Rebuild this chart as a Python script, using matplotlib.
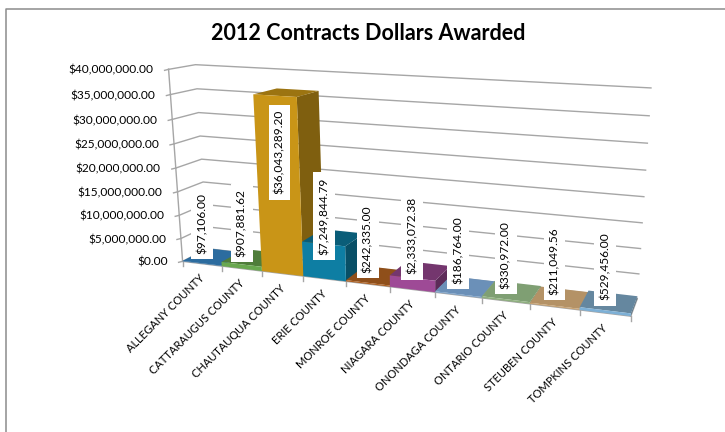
import numpy as np
import matplotlib
matplotlib.use('Agg')
import matplotlib.pyplot as plt
from matplotlib.patches import Polygon

counties = ['ALLEGANY COUNTY', 'CATTARAUGUS COUNTY', 'CHAUTAUQUA COUNTY', 'ERIE COUNTY',
            'MONROE COUNTY', 'NIAGARA COUNTY', 'ONONDAGA COUNTY', 'ONTARIO COUNTY',
            'STEUBEN COUNTY', 'TOMPKINS COUNTY']
dollars = [97106.00, 907881.62, 36043289.20, 7249844.79, 242335.00,
           2333072.38, 186764.00, 330972.00, 211049.56, 529456.00]
y_ticks = [0, 5000000, 10000000, 15000000, 20000000, 25000000, 30000000, 35000000, 40000000]

front_colors = ['#3a7db5', '#69a84f', '#c99517', '#0e7ea3', '#b0601f',
                '#9e4a96', '#7ba3cc', '#8fb07f', '#c9a26f', '#7db0d6']
top_colors = ['#2c6c9f', '#4f7d3a', '#9c7411', '#0a5d78', '#8f4f1a',
              '#74366e', '#6b90b8', '#7f9f73', '#b49266', '#65879f']
side_colors = ['#245a85', '#426a31', '#7f5f0f', '#084f66', '#75411a',
               '#5d2b58', '#5a7a9c', '#6b8761', '#987b56', '#557286']

# corners of the plot box in image pixels, used to fit the 3d view
# (x across, depth, height), all 0-1
box = [(0, 0, 0), (0, 0, 1), (0, 1, 1), (0, 1, 0), (1, 0, 0), (1, 1, 0), (1, 1, 1)]
pix = [(182, 260), (169, 70), (195, 64), (208, 250), (631, 317), (637, 298), (651, 88)]

rows = []
rhs = []
for (a, b, c), (u, v) in zip(box, pix):
    rows.append([a, b, c, 1, 0, 0, 0, 0, -u * a, -u * b, -u * c])
    rows.append([0, 0, 0, 0, a, b, c, 1, -v * a, -v * b, -v * c])
    rhs += [u, v]
m = np.linalg.lstsq(np.array(rows, float), np.array(rhs, float), rcond=None)[0]
m = np.append(m, 1).reshape(3, 4)


def proj(x, d, z):
    p = m @ np.array([x, d, z, 1.0])
    return p[0] / p[2], p[1] / p[2]


zmax = y_ticks[-1]
n = len(counties)
fig = plt.figure(figsize=(7.25, 4.32), dpi=100)
ax = fig.add_axes([0, 0, 1, 1])
ax.set_xlim(0, 725)
ax.set_ylim(432, 0)
ax.axis('off')
plt.rcParams['font.family'] = ['Lato', 'DejaVu Sans']

# chart frame
ax.plot([6.5, 6.5, 725], [432, 8.5, 8.5], color='#8c8c8c', lw=1.1)

ax.text(368, 34, '2012 Contracts Dollars Awarded', fontsize=15.5, fontweight='bold',
        ha='center', va='center', color='black')

# walls
grid = '#a6a6a6'
for t in y_ticks:
    z = t / zmax
    pts = [proj(0, 0, z), proj(0, 1, z), proj(1, 1, z)]
    ax.plot(*zip(*pts), color=grid, lw=1, zorder=1)
    tx, ty = proj(0, 0, z)
    ax.plot([tx - 4, tx], [ty + 1, ty], color=grid, lw=1, zorder=1)
    ax.text(tx - 15, ty + 1, '${:,.2f}'.format(t), ha='right', va='center', fontsize=8.6, color='black')
ax.plot(*zip(proj(0, 0, 0), proj(0, 0, 1)), color=grid, lw=1, zorder=1)

# front edge of the floor, with ticks
ax.plot(*zip(proj(0, 0, 0), proj(1, 0, 0)), color=grid, lw=1, zorder=1)
for i in range(n + 1):
    tx, ty = proj(i / n, 0, 0)
    ax.plot([tx, tx], [ty, ty + 5], color=grid, lw=1, zorder=1)
ax.plot(*zip(proj(1, 0, 0), proj(1, 1, 0)), color=grid, lw=1, zorder=1)

# bars, left to right so the next one hides the side of the last
for i, v in enumerate(dollars):
    x0, x1 = i / n, (i + 1) / n
    d0, d1 = 0.0, 1.0
    z = v / zmax
    front = [proj(x0, d0, 0), proj(x1, d0, 0), proj(x1, d0, z), proj(x0, d0, z)]
    side = [proj(x1, d0, 0), proj(x1, d1, 0), proj(x1, d1, z), proj(x1, d0, z)]
    top = [proj(x0, d0, z), proj(x1, d0, z), proj(x1, d1, z), proj(x0, d1, z)]
    ax.add_patch(Polygon(side, fc=side_colors[i], ec='none', zorder=2 + i))
    ax.add_patch(Polygon(top, fc=top_colors[i], ec='none', zorder=2 + i))
    ax.add_patch(Polygon(front, fc=front_colors[i], ec='none', zorder=2 + i))

# value labels
for i, v in enumerate(dollars):
    lz = 0.41 * v / zmax
    lx = proj((i + 0.5) / n, 0, lz)[0]
    ly = proj((i + 0.5) / n, 0.5, lz)[1]
    ax.text(lx, ly - 3, '${:,.2f}'.format(v), rotation=90, ha='center', va='bottom',
            fontsize=8.6, color='black', zorder=30,
            bbox=dict(fc='white', ec='none', pad=3.9))

# category labels
for i, name in enumerate(counties):
    tx, ty = proj((i + 0.5) / n, 0, 0)
    ax.text(tx - 3, ty + 9, name, rotation=45, rotation_mode='anchor', ha='right', va='top',
            fontsize=8, color='black')

fig.savefig('out.png', dpi=100)
